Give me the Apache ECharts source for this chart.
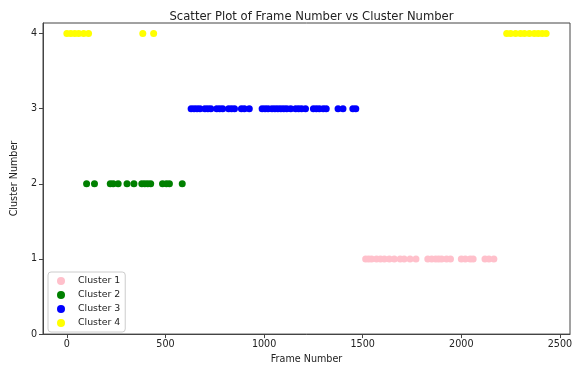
<!DOCTYPE html>
<html>
<head>
<meta charset="utf-8">
<script src="https://cdn.jsdelivr.net/npm/echarts@6/dist/echarts.min.js"></script>
<style>html,body{margin:0;padding:0;background:#fff;}#c{width:577px;height:369px;}</style>
</head>
<body>
<div id="c"></div>
<script>
const xTicks = [0, 500, 1000, 1500, 2000, 2500];
const yTicks = [0, 1, 2, 3, 4];
const cluster1X = [1515, 1530, 1545, 1570, 1590, 1610, 1635, 1660, 1690, 1710, 1740, 1770, 1830, 1850, 1870, 1885, 1900, 1925, 1945, 2000, 2020, 2045, 2060, 2120, 2140, 2165];
const cluster2X = [100, 140, 220, 235, 260, 305, 340, 380, 395, 410, 425, 485, 505, 520, 585];
const cluster3X = [630, 645, 660, 675, 700, 715, 730, 760, 775, 790, 820, 835, 850, 885, 900, 925, 990, 1005, 1020, 1040, 1055, 1070, 1085, 1100, 1115, 1135, 1160, 1175, 1190, 1210, 1250, 1265, 1280, 1300, 1315, 1375, 1400, 1450, 1465];
const cluster4X = [0, 20, 40, 60, 85, 110, 385, 440, 2230, 2250, 2275, 2300, 2320, 2345, 2370, 2390, 2410, 2430];
const clusterNames = ['Cluster 1', 'Cluster 2', 'Cluster 3', 'Cluster 4'];
const clusterValues = [1, 2, 3, 4];
const clusterColors = ['#ffc0cb', '#008000', '#0000ff', '#ffff00'];
const allX = [cluster1X, cluster2X, cluster3X, cluster4X];

const font = 'DejaVu Sans';
const chart = echarts.init(document.getElementById('c'), null, {renderer: 'canvas'});
chart.setOption({
  animation: false,
  backgroundColor: '#fff',
  title: {
    text: 'Scatter Plot of Frame Number vs Cluster Number',
    left: 306.5, top: 6, textAlign: 'center',
    textStyle: {fontFamily: font, fontSize: 11.6, fontWeight: 'normal', color: '#222'}
  },
  grid: {left: 43, right: 7, top: 23, bottom: 32, show: true, borderColor: '#444', borderWidth: 1, containLabel: false},
  xAxis: {
    type: 'value', min: -121, max: 2551,
    name: 'Frame Number', nameLocation: 'middle', nameGap: 18,
    nameTextStyle: {fontFamily: font, fontSize: 9.6, color: '#222'},
    axisLine: {show: true, onZero: false, lineStyle: {color: '#444'}},
    axisTick: {show: true, length: 4, inside: false, customValues: xTicks, lineStyle: {color: '#444'}},
    axisLabel: {customValues: xTicks, formatter: v => String(v), fontFamily: font, fontSize: 9.6, color: '#222', margin: 5},
    splitLine: {show: false}
  },
  yAxis: {
    type: 'value', min: 0, max: 4.14,
    name: 'Cluster Number', nameLocation: 'middle', nameGap: 12, nameRotate: 90,
    nameTextStyle: {fontFamily: font, fontSize: 9.6, color: '#222'},
    axisLine: {show: true, onZero: false, lineStyle: {color: '#444'}},
    axisTick: {show: true, length: 4, inside: false, customValues: yTicks, lineStyle: {color: '#444'}},
    axisLabel: {customValues: yTicks, formatter: v => String(v), fontFamily: font, fontSize: 9.6, color: '#222', margin: 6},
    splitLine: {show: false}
  },
  legend: {
    orient: 'vertical', left: 48, top: 272,
    padding: [2, 5, 2, 9],
    itemWidth: 8, itemHeight: 8, itemGap: 0,
    icon: 'circle',
    borderColor: '#ccc', borderWidth: 1, borderRadius: 3, backgroundColor: '#fff',
    textStyle: {fontFamily: font, fontSize: 9.4, color: '#222', lineHeight: 14, padding: [0, 0, 0, 8]},
    data: clusterNames
  },
  series: clusterNames.map((n, i) => ({
    name: n, type: 'scatter', symbol: 'circle', symbolSize: 7,
    itemStyle: {color: clusterColors[i], opacity: 1},
    data: allX[i].map(x => [x, clusterValues[i]])
  }))
});
</script>
</body>
</html>
